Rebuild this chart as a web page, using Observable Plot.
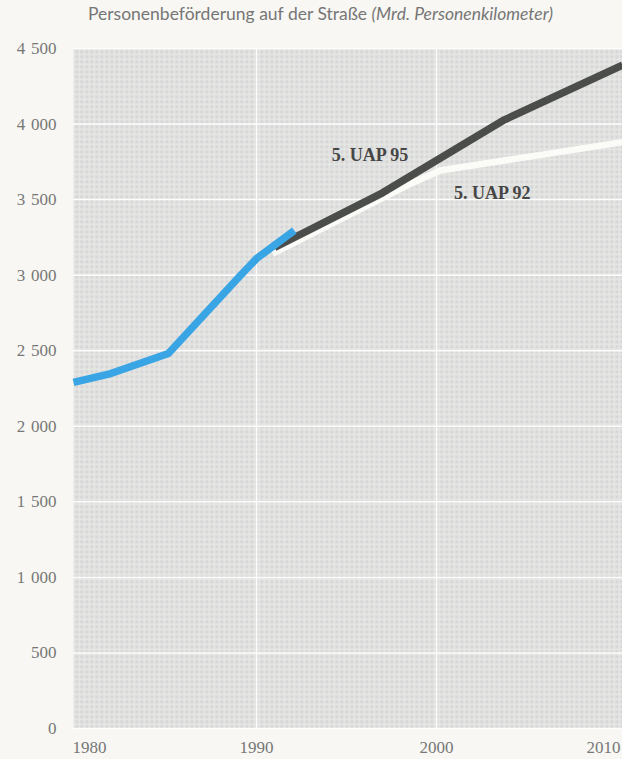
<!DOCTYPE html>
<html>
<head>
<meta charset="utf-8">
<script src="https://cdn.jsdelivr.net/npm/d3@7"></script>
<script src="https://cdn.jsdelivr.net/npm/@observablehq/plot@0.6"></script>
<style>
  html, body { margin: 0; padding: 0; background: #f8f7f3; }
  #wrap { position: relative; width: 622px; height: 759px; overflow: hidden; }
  #title { position: absolute; left: 88px; top: 3px; font-family: Lato, sans-serif; font-size: 17.5px; color: #767676; white-space: nowrap; }
  #title i { font-style: italic; }
  #chart { position: absolute; left: 0; top: 30px; }
</style>
</head>
<body>
<div id="wrap">
  <div id="title">Personenbeförderung auf der Straße <i>(Mrd. Personenkilometer)</i></div>
  <div id="chart"></div>
</div>
<script>
// Historical series (blue)
const histYears  = [1979.83, 1981.9, 1985.1, 1989.1, 1990, 1992.1];
const histValues = [2290, 2349, 2482, 2998, 3110, 3296];
// Forecast "5. UAP 95" (dark grey)
const uap95Years  = [1991, 1997, 2003.7, 2010.33];
const uap95Values = [3183, 3545, 4024, 4390];
// Forecast "5. UAP 92" (white)
const uap92Years  = [1990.9, 1998.6, 2000.2, 2010.33];
const uap92Values = [3143, 3607, 3693, 3880];

const yTicks = [0, 500, 1000, 1500, 2000, 2500, 3000, 3500, 4000, 4500];
const xTicks = [1980, 1990, 2000, 2010];
const xGrid  = [1990, 2000];
const labelNames  = ["5. UAP 95", "5. UAP 92"];
const labelYears  = [1996.3, 2003.1];
const labelValues = [3792, 3541];

const hist  = histYears.map((y, i) => ({year: y, value: histValues[i]}));
const uap95 = uap95Years.map((y, i) => ({year: y, value: uap95Values[i]}));
const uap92 = uap92Years.map((y, i) => ({year: y, value: uap92Values[i]}));
const labels = labelNames.map((n, i) => ({name: n, year: labelYears[i], value: labelValues[i]}));

const fmt = d => d3.format(",")(d).replace(",", "\u2005\u200a");

const chart = Plot.plot({
  width: 622,
  height: 729,
  marginTop: 18,
  marginBottom: 31,
  marginLeft: 73,
  marginRight: 0,
  style: {background: "transparent", fontFamily: "'Liberation Serif', serif", fontSize: "17px", color: "#777"},
  x: {domain: [1979.83, 2010.33], axis: null},
  y: {domain: [0, 4500], axis: null},
  marks: [
    Plot.frame({fill: "url(#halftone)", stroke: null}),
    Plot.gridY(yTicks, {stroke: "#ffffff", strokeOpacity: 0.9, strokeWidth: 1.5}),
    Plot.gridX(xGrid, {stroke: "#ffffff", strokeOpacity: 0.9, strokeWidth: 1.5}),
    Plot.line(uap92, {x: "year", y: "value", stroke: "#fbfbf8", strokeWidth: 6.5, strokeLinecap: "butt", strokeLinejoin: "round"}),
    Plot.line(uap95, {x: "year", y: "value", stroke: "#4b4d4a", strokeWidth: 7.5, strokeLinecap: "butt", strokeLinejoin: "round"}),
    Plot.line(hist, {x: "year", y: "value", stroke: "#3aa5e4", strokeWidth: 7.5, strokeLinecap: "butt", strokeLinejoin: "round"}),
    Plot.text(labels, {x: "year", y: "value", text: "name", fontWeight: "bold", fontSize: 18, fill: "#464646"}),
    Plot.axisY(yTicks, {label: null, tickSize: 0, tickPadding: 17, tickFormat: fmt, fill: "#777", fontSize: 17}),
    Plot.text(xTicks.filter(d => d === 1980), {x: d => d, frameAnchor: "bottom", dy: 24, dx: -4, textAnchor: "start", text: d => String(d), fill: "#777", fontSize: 17}),
    Plot.text(xTicks.filter(d => d === 1990 || d === 2000), {x: d => d, frameAnchor: "bottom", dy: 24, textAnchor: "middle", text: d => String(d), fill: "#777", fontSize: 17}),
    Plot.text(xTicks.filter(d => d === 2010), {x: d => d, frameAnchor: "bottom", dy: 24, dx: 4, textAnchor: "end", text: d => String(d), fill: "#777", fontSize: 17})
  ]
});

// Halftone-like background texture for the plot frame
const ns = "http://www.w3.org/2000/svg";
const defs = document.createElementNS(ns, "defs");
defs.innerHTML = `
  <pattern id="halftone" patternUnits="userSpaceOnUse" width="5" height="5">
    <rect width="5" height="5" fill="#d9d6d9"/>
    <rect y="3" width="5" height="1.6" fill="#e6e9e4"/>
    <rect x="3" width="1.6" height="5" fill="#e6e9e4"/>
  </pattern>`;
chart.insertBefore(defs, chart.firstChild);
document.getElementById("chart").appendChild(chart);
</script>
</body>
</html>
